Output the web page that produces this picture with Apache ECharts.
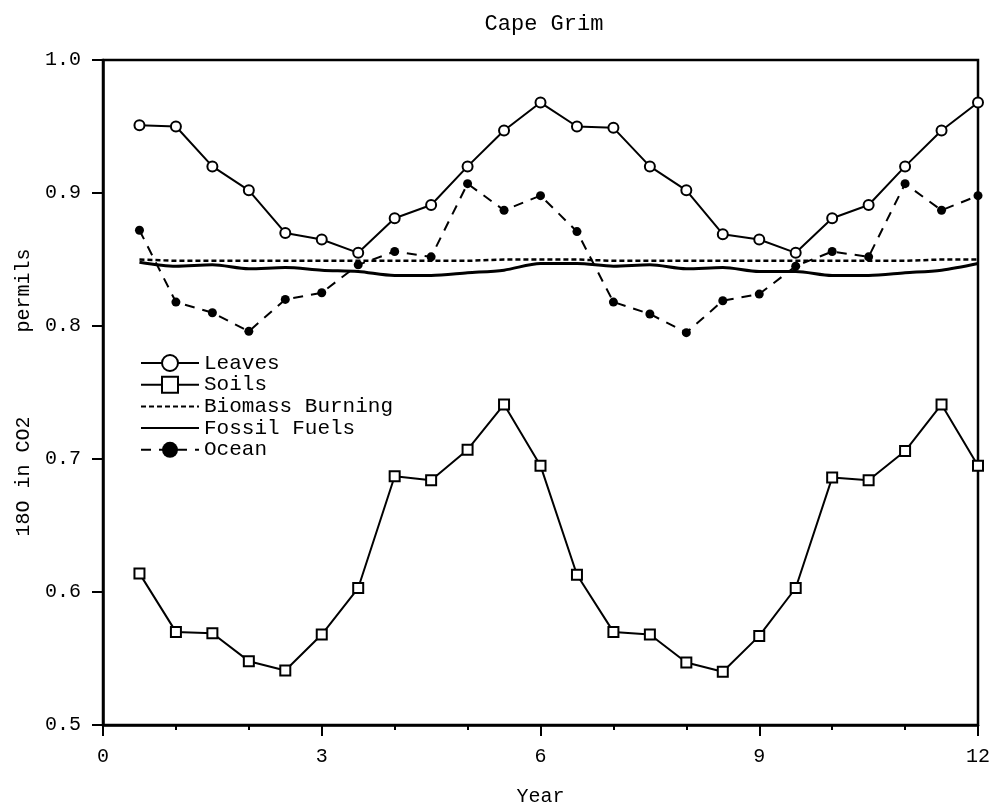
<!DOCTYPE html>
<html>
<head>
<meta charset="utf-8">
<script src="https://cdn.jsdelivr.net/npm/echarts@6/dist/echarts.min.js"></script>
<style>html,body{margin:0;padding:0;background:#fff}#c{width:994px;height:804px}</style>
</head>
<body>
<div id="c"></div>
<script>
const years = [0.5,1,1.5,2,2.5,3,3.5,4,4.5,5,5.5,6,6.5,7,7.5,8,8.5,9,9.5,10,10.5,11,11.5,12];
const leaves = [0.951,0.950,0.920,0.902,0.870,0.865,0.855,0.881,0.891,0.920,0.947,0.968,
                0.950,0.949,0.920,0.902,0.869,0.865,0.855,0.881,0.891,0.920,0.947,0.968];
const soils = [0.614,0.570,0.569,0.548,0.541,0.568,0.603,0.687,0.684,0.707,0.741,0.695,
               0.613,0.570,0.568,0.547,0.540,0.567,0.603,0.686,0.684,0.706,0.741,0.695];
const biomass = [0.850,0.849,0.849,0.849,0.849,0.849,0.849,0.849,0.849,0.849,0.850,0.850,
                 0.850,0.849,0.849,0.849,0.849,0.849,0.849,0.849,0.849,0.849,0.850,0.850];
const fossil = [0.848,0.845,0.846,0.843,0.844,0.842,0.841,0.838,0.838,0.840,0.842,0.847,
                0.847,0.845,0.846,0.843,0.844,0.841,0.841,0.838,0.838,0.840,0.842,0.847];
const ocean = [0.872,0.818,0.810,0.796,0.820,0.825,0.846,0.856,0.852,0.907,0.887,0.898,
               0.871,0.818,0.809,0.795,0.819,0.824,0.845,0.856,0.852,0.907,0.887,0.898];
const xTicks = [0,3,6,9,12];
const yTicks = [0.5,0.6,0.7,0.8,0.9,1.0];

const FONT = 'Liberation Mono';
const pair = arr => years.map((x,i)=>[x,arr[i]]);
const hidden = {color:'rgba(0,0,0,0)',borderWidth:0,opacity:0};
const chart = echarts.init(document.getElementById('c'));
chart.setOption({
  animation:false,
  backgroundColor:'#fff',
  textStyle:{fontFamily:FONT,color:'#000'},
  title:{text:'Cape Grim',left:539,top:8,textAlign:'center',
    textStyle:{fontFamily:FONT,fontSize:22,fontWeight:'normal',color:'#000'}},
  grid:{left:103,right:16,top:60,bottom:79,containLabel:false,outerBoundsMode:'none',
    show:true,borderColor:'#000',borderWidth:2.5,backgroundColor:'transparent'},
  legend:{orient:'vertical',left:135,top:347.5,itemWidth:58,itemHeight:20,itemGap:0.7,
    textStyle:{fontFamily:FONT,fontSize:21,color:'#000',lineHeight:21},
    data:['Leaves','Soils',
      {name:'Biomass Burning',itemStyle:hidden},
      {name:'Fossil Fuels',itemStyle:hidden},
      'Ocean']},
  xAxis:{type:'value',min:xTicks[0],max:xTicks[xTicks.length-1],interval:3,
    name:'Year',nameLocation:'middle',nameGap:62,
    nameTextStyle:{fontFamily:FONT,fontSize:20,color:'#000'},
    axisLine:{lineStyle:{color:'#000',width:2.5}},
    axisTick:{inside:false,length:11,lineStyle:{color:'#000',width:2}},
    minorTick:{show:true,splitNumber:3,length:5,lineStyle:{color:'#000',width:2}},
    axisLabel:{margin:22,fontFamily:FONT,fontSize:20,color:'#000'},
    splitLine:{show:false}},
  yAxis:{type:'value',min:yTicks[0],max:yTicks[yTicks.length-1],interval:0.1,
    name:'18O in CO2       permils',nameLocation:'middle',nameGap:68,
    nameTextStyle:{fontFamily:FONT,fontSize:20,color:'#000'},
    axisLine:{show:true,lineStyle:{color:'#000',width:2.5}},
    axisTick:{show:true,inside:false,length:11,lineStyle:{color:'#000',width:2}},
    axisLabel:{margin:22,fontFamily:FONT,fontSize:20,color:'#000',formatter:v=>v.toFixed(1)},
    splitLine:{show:false}},
  series:[
    {name:'Leaves',type:'line',data:pair(leaves),symbol:'emptyCircle',symbolSize:10,
      lineStyle:{color:'#000',width:2},itemStyle:{color:'#000',borderWidth:2}},
    {name:'Soils',type:'line',data:pair(soils),symbol:'emptyRect',symbolSize:10,
      lineStyle:{color:'#000',width:2},itemStyle:{color:'#000',borderWidth:2}},
    {name:'Biomass Burning',type:'line',data:pair(biomass),symbol:'none',
      lineStyle:{color:'#000',width:2.5,type:[5,3]},itemStyle:{color:'#000'}},
    {name:'Fossil Fuels',type:'line',data:pair(fossil),symbol:'none',smooth:0.3,
      lineStyle:{color:'#000',width:3},itemStyle:{color:'#000'}},
    {name:'Ocean',type:'line',data:pair(ocean),symbol:'circle',symbolSize:9,
      lineStyle:{color:'#000',width:2,type:[10,8]},itemStyle:{color:'#000'}}
  ]
});
</script>
</body>
</html>
